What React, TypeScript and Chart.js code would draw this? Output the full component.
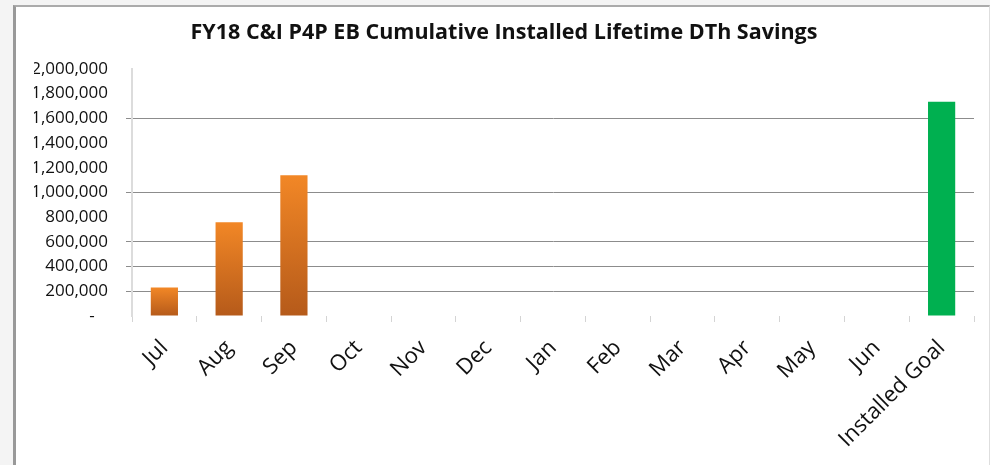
import React, { useEffect, useRef } from "react";
import { Chart, registerables } from "chart.js";

Chart.register(...registerables);

const categories = ["Jul", "Aug", "Sep", "Oct", "Nov", "Dec", "Jan", "Feb", "Mar", "Apr", "May", "Jun", "Installed Goal"];
const cumulativeSavings = [230000, 758000, 1138000, null, null, null, null, null, null, null, null, null, null];
const installedGoal = [null, null, null, null, null, null, null, null, null, null, null, null, 1734000];
const visibleGridValues = [200000, 400000, 600000, 1000000, 1600000];
const chartTitle = "FY18 C&I P4P EB Cumulative Installed Lifetime DTh Savings";

export default function App() {
  const ref = useRef<HTMLCanvasElement | null>(null);

  useEffect(() => {
    const canvas = ref.current;
    if (!canvas) return;
    const orangeGradient = (ctx: any) => {
      const chart = ctx.chart;
      const v = ctx.raw;
      if (!chart.chartArea || ctx.type !== "data" || v == null || !chart.scales.y) return "#E07A22";
      const y = chart.scales.y;
      const top = y.getPixelForValue(v);
      const bot = y.getPixelForValue(0);
      const g = chart.ctx.createLinearGradient(0, top, 0, bot);
      g.addColorStop(0, "#F28726");
      g.addColorStop(1, "#B55A1A");
      return g;
    };
    const chart = new Chart(canvas, {
      type: "bar",
      data: {
        labels: categories,
        datasets: [
          {
            data: cumulativeSavings as any,
            backgroundColor: orangeGradient as any,
            barPercentage: 0.42,
            categoryPercentage: 1,
            grouped: false,
          },
          {
            data: installedGoal as any,
            backgroundColor: "#00B050",
            barPercentage: 0.42,
            categoryPercentage: 1,
            grouped: false,
          },
        ],
      },
      options: {
        responsive: false,
        animation: false,
        devicePixelRatio: 1,
        layout: { padding: { left: 34, right: 16, top: 0, bottom: 0 } },
        plugins: {
          legend: { display: false },
          tooltip: { enabled: false },
          title: {
            display: true,
            text: chartTitle,
            color: "#111",
            font: { family: "Open Sans", size: 21.5, weight: "bold", lineHeight: 1.2 },
            padding: { top: 20, bottom: 23 },
          },
        },
        scales: {
          x: {
            offset: true,
            grid: {
              display: true,
              drawOnChartArea: false,
              drawTicks: true,
              tickLength: 6,
              color: "#d4d4d4",
              offset: true,
            },
            border: { display: false },
            ticks: {
              minRotation: 45,
              maxRotation: 45,
              autoSkip: false,
              padding: 13,
              color: "#111",
              font: { family: "Open Sans", size: 22 },
            },
            afterFit: (scale: any) => {
              scale.height = 465 - 316;
            },
          },
          y: {
            min: 0,
            max: 2000000,
            grid: {
              color: (c: any) =>
                c.tick && visibleGridValues.includes(c.tick.value) ? "#8c8c8c" : "rgba(0,0,0,0)",
              tickLength: 6,
              lineWidth: 1,
            },
            border: { display: true, color: "#dcdcdc", width: 2 },
            ticks: {
              stepSize: 200000,
              padding: 18,
              color: "#111",
              font: { family: "Open Sans", size: 17 },
              callback: (v: any) => (Number(v) === 0 ? "-   " : Number(v).toLocaleString("en-US")),
            },
            afterFit: (scale: any) => {
              scale.width = 132 - 34;
            },
          },
        },
      },
    });
    return () => chart.destroy();
  }, []);

  return (
    <div style={{ position: "fixed", left: 0, top: 0, width: 990, height: 465, background: "#f4f4f4", overflow: "hidden" }}>
      <div
        style={{
          position: "absolute",
          left: 13,
          top: 5,
          width: 973,
          height: 470,
          background: "#fff",
          borderLeft: "3px solid #999",
          borderTop: "2px solid #ababab",
          borderRight: "1px solid #dedede",
        }}
      />
      <canvas ref={ref} width={990} height={465} style={{ position: "absolute", left: 0, top: 0, width: 990, height: 465 }} />
    </div>
  );
}
